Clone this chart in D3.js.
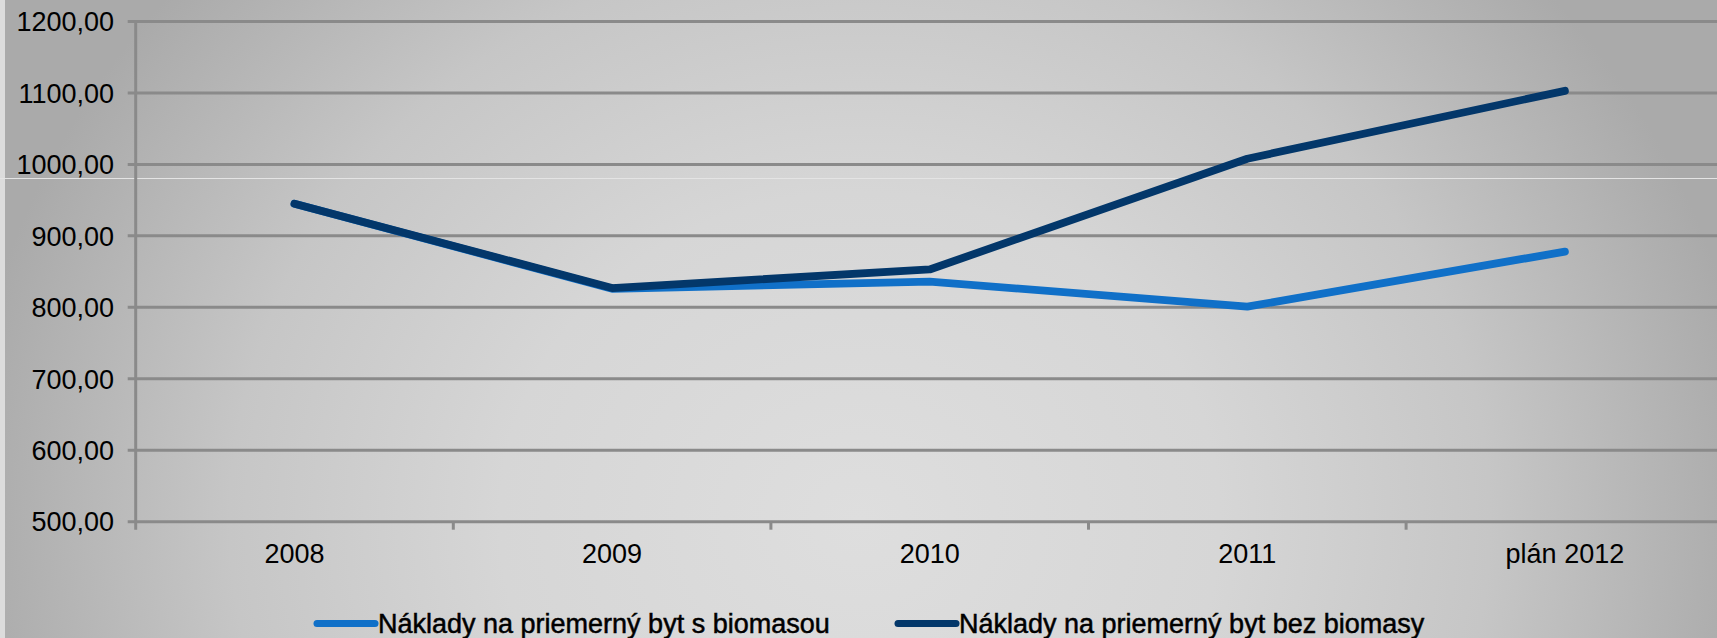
<!DOCTYPE html>
<html>
<head>
<meta charset="utf-8">
<script src="https://cdn.jsdelivr.net/npm/d3@7"></script>
<style>
  html, body { margin: 0; padding: 0; background: #d0d0d0; }
  svg { display: block; }
  text { font-family: "Liberation Sans", Arial, sans-serif; fill: #000; }
</style>
</head>
<body>
<svg id="chart" width="1717" height="638"></svg>
<script>
// Heating cost per average flat, with and without biomass
const categories = ["2008", "2009", "2010", "2011", "plán 2012"];
const withBiomass = [945, 826, 836, 801, 878];
const withoutBiomass = [945, 827, 853, 1008, 1103];
const seriesNames = [
  "Náklady na priemerný byt s biomasou",
  "Náklady na priemerný byt bez biomasy"
];
const seriesColors = ["#1070c8", "#03376a"];
const yTicks = [500, 600, 700, 800, 900, 1000, 1100, 1200];

const W = 1717, H = 638;
const svg = d3.select("#chart");

// Soft grey background: elliptical glow, lightest toward the lower middle
const defs = svg.append("defs");
const grad = defs.append("radialGradient")
  .attr("id", "bg")
  .attr("gradientUnits", "userSpaceOnUse")
  .attr("cx", 0).attr("cy", 0).attr("r", 1)
  .attr("gradientTransform", "translate(860,520) scale(900,820)");
grad.append("stop").attr("offset", "0%").attr("stop-color", "#dedede");
grad.append("stop").attr("offset", "40%").attr("stop-color", "#d6d6d6");
grad.append("stop").attr("offset", "70%").attr("stop-color", "#c6c6c6");
grad.append("stop").attr("offset", "100%").attr("stop-color", "#aaaaaa");

svg.append("rect").attr("width", W).attr("height", H).attr("fill", "#dcdcdc");
svg.append("rect").attr("x", 5).attr("width", W - 5).attr("height", H).attr("fill", "url(#bg)");
svg.append("line")
  .attr("x1", 0).attr("x2", W).attr("y1", 178.5).attr("y2", 178.5)
  .attr("stroke", "#e4e4e4").attr("stroke-width", 1.2);

// Plot area (the right edge runs past the canvas)
const plotLeft = 135.7, bandW = 317.6;
const plotTop = 21.5, plotBottom = 521.7;

const x = d3.scalePoint()
  .domain(categories)
  .range([plotLeft, plotLeft + bandW * categories.length])
  .padding(0.5);
const y = d3.scaleLinear().domain([500, 1200]).range([plotBottom, plotTop]);

const gridColor = "#8a8a8a";

// Horizontal gridlines with left tick marks
svg.append("g").selectAll("line")
  .data(yTicks)
  .join("line")
  .attr("x1", plotLeft - 8).attr("x2", W + 20)
  .attr("y1", d => y(d)).attr("y2", d => y(d))
  .attr("stroke", gridColor).attr("stroke-width", 3);

// Vertical value axis
svg.append("line")
  .attr("x1", plotLeft).attr("x2", plotLeft)
  .attr("y1", plotTop).attr("y2", plotBottom + 8)
  .attr("stroke", gridColor).attr("stroke-width", 3);

// Category boundary ticks below the axis
const boundaries = d3.range(1, categories.length + 1).map(i => plotLeft + bandW * i);
svg.append("g").selectAll("line")
  .data(boundaries)
  .join("line")
  .attr("x1", d => d).attr("x2", d => d)
  .attr("y1", plotBottom).attr("y2", plotBottom + 8)
  .attr("stroke", gridColor).attr("stroke-width", 3);

// Value axis labels
const fmt = d => d3.format(".2f")(d).replace(".", ",");
svg.append("g").selectAll("text")
  .data(yTicks)
  .join("text")
  .attr("x", 114).attr("y", d => y(d))
  .attr("dy", "0.36em")
  .attr("text-anchor", "end")
  .attr("font-size", 27)
  .text(fmt);

// Category labels
svg.append("g").selectAll("text")
  .data(categories)
  .join("text")
  .attr("x", d => x(d)).attr("y", 562.5)
  .attr("text-anchor", "middle")
  .attr("font-size", 27)
  .text(d => d);

// Series lines (dark line drawn on top)
const line = d3.line()
  .x((d, i) => x(categories[i]))
  .y(d => y(d));

[withBiomass, withoutBiomass].forEach((vals, k) => {
  svg.append("path")
    .datum(vals)
    .attr("d", line)
    .attr("fill", "none")
    .attr("stroke", seriesColors[k])
    .attr("stroke-width", 7.8)
    .attr("stroke-linecap", "round")
    .attr("stroke-linejoin", "round");
});

// Legend
const legendX = [317, 898];
const legendY = 623.5;
seriesNames.forEach((name, k) => {
  const g = svg.append("g").attr("transform", `translate(${legendX[k]},${legendY})`);
  g.append("line")
    .attr("x1", 0).attr("x2", 58)
    .attr("stroke", seriesColors[k])
    .attr("stroke-width", 7)
    .attr("stroke-linecap", "round");
  g.append("text")
    .attr("x", 61).attr("y", 9.5)
    .attr("font-size", 27)
    .attr("stroke", "#000").attr("stroke-width", 0.5)
    .text(name);
});
</script>
</body>
</html>
